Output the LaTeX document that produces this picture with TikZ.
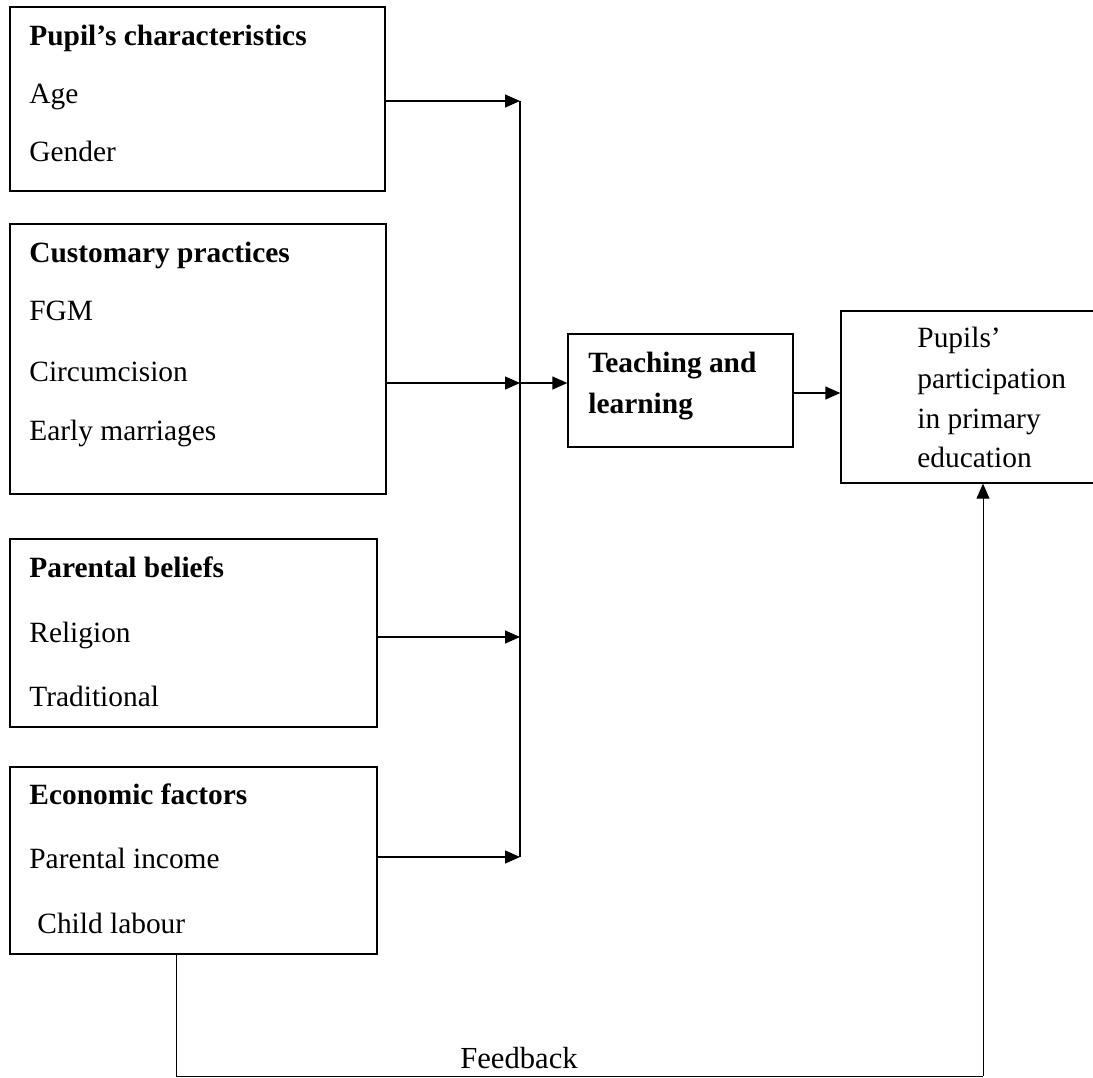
\documentclass[tikz,border=0pt]{standalone}
\usepackage{fontspec}
\setmainfont{Liberation Serif}
\usetikzlibrary{positioning, calc, arrows.meta, fit}
\tikzset{box/.style={draw, line width=0.65pt, inner sep=0pt}}
\tikzset{txt/.style={anchor=base west, inner sep=0pt, font=\fontsize{14.7}{17}\selectfont}}
\tikzset{head/.style={txt, font=\fontsize{14.7}{17}\selectfont\bfseries}}
\tikzset{arr/.style={line width=0.65pt, -{Triangle[length=7.5pt,width=6.5pt]}}}
\tikzset{link/.style={line width=0.65pt}}

\begin{document}
\begin{tikzpicture}[x=0.5pt, y=-0.5pt]
      \useasboundingbox (0,0) rectangle (1093,1077);
      \clip (0,0) rectangle (1093,1077);

      % factor boxes
      \node[box, fit={(10,7) (385,191)}] (pupil) {};
      \node[head] (pupilT) at (29,45) {Pupil’s characteristics};
      \node[txt] (age) at (29,103) {Age};
      \node[txt] (gender) at (29,161) {Gender};

      \node[box, fit={(10,224) (386,494)}] (custom) {};
      \node[head] (customT) at (29,262) {Customary practices};
      \node[txt] (fgm) at (29,320) {FGM};
      \node[txt] (circ) at (29,381) {Circumcision};
      \node[txt] (marr) at (29,440) {Early marriages};

      \node[box, fit={(10,539) (377,727)}] (belief) {};
      \node[head] (beliefT) at (29,577) {Parental beliefs};
      \node[txt] (relig) at (29,642) {Religion};
      \node[txt] (trad) at (29,706) {Traditional};

      \node[box, fit={(10,767) (377,954)}] (econ) {};
      \node[head] (econT) at (29,804) {Economic factors};
      \node[txt] (income) at (29,868) {Parental income};
      \node[txt] (labour) at (37,933) {Child labour};

      % middle and outcome
      \node[box, fit={(568,334) (793,447)}] (teach) {};
      \node[head] (teachA) at (588,372) {Teaching and};
      \node[head] (teachB) at (588,413) {learning};

      \node[box, fit={(841,311) (1110,483)}] (partic) {};
      \node[txt] (particA) at (917,347) {Pupils’};
      \node[txt] (particB) at (917,388) {participation};
      \node[txt] (particC) at (917,428) {in primary};
      \node[txt] (particD) at (917,467) {education};

      % collecting line
      \coordinate (j1) at (520,101);
      \coordinate (j2) at (520,383);
      \coordinate (j3) at (520,637);
      \coordinate (j4) at (520,857);
      \draw[link] (j1) -- (j4);
      \draw[arr] (pupil.east |- j1) -- (j1);
      \draw[arr] (custom.east |- j2) -- (j2);
      \draw[arr] (belief.east |- j3) -- (j3);
      \draw[arr] (econ.east |- j4) -- (j4);
      \draw[arr] (j2) -- (teach.west |- j2);
      \draw[arr] (teach.east |- 0,393) -- (partic.west |- 0,393);

      % feedback loop
      \coordinate (fb1) at (176,1076);
      \coordinate (fb2) at (983,1076);
      \draw[line width=0.5pt] (econ.south -| fb1) -- (fb1) -- (fb2);
      \draw[arr, line width=0.5pt] (fb2) -- (partic.south -| fb2);
      \node[txt, anchor=base, font=\fontsize{15.3}{17}\selectfont] (feedback) at (519,1068) {Feedback};

    \end{tikzpicture}
\end{document}
